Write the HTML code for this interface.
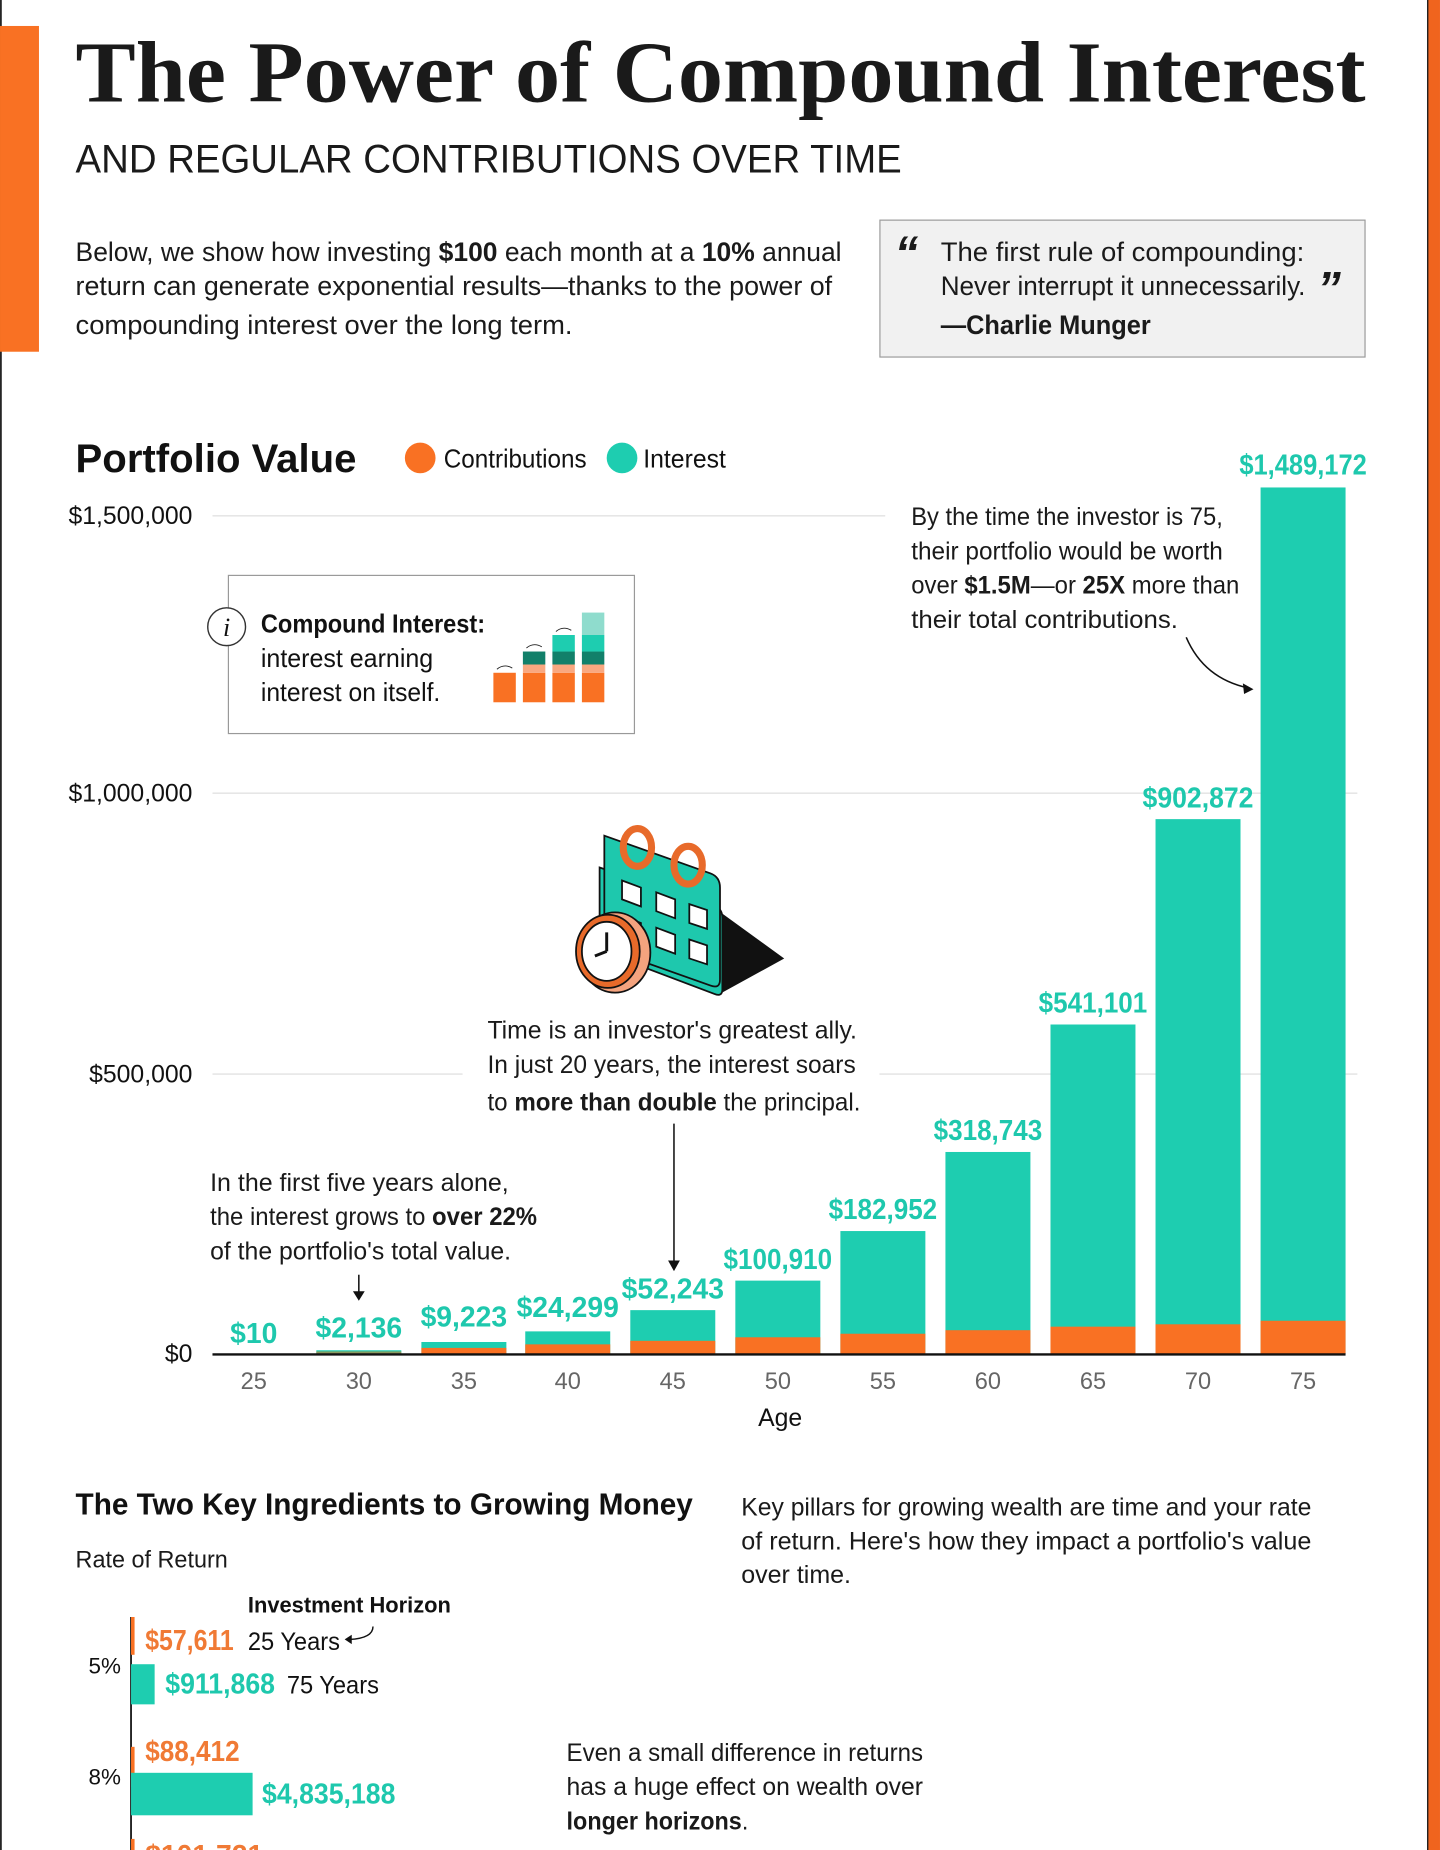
<!DOCTYPE html>
<html><head><meta charset="utf-8"><style>
html,body{margin:0;padding:0;background:#fff;width:1440px;height:1850px;overflow:hidden}
svg{display:block}
text{font-family:"Liberation Sans Narrow","Liberation Sans",sans-serif}
.s{font-family:"Liberation Serif",serif}
</style></head><body>
<svg width="1440" height="1850" viewBox="0 0 1220 1567.4" xmlns="http://www.w3.org/2000/svg">
<rect width="1220" height="1568" fill="#fff"/>
<rect x="0" y="0" width="1.5" height="1568" fill="#222"/>
<rect x="0" y="22" width="33" height="276" fill="#f97123"/>
<rect x="1209" y="0" width="11" height="1568" fill="#f0641e"/>
<rect x="1209" y="0" width="1.2" height="1568" fill="#222"/>

<text class="s" x="64" y="86" font-size="74" font-weight="bold" fill="#1a1a1a" textLength="1093" lengthAdjust="spacingAndGlyphs">The Power of Compound Interest</text>
<text x="64" y="146" font-size="34" fill="#1a1a1a" textLength="700" lengthAdjust="spacingAndGlyphs">AND REGULAR CONTRIBUTIONS OVER TIME</text>

<g font-size="23" fill="#1a1a1a">
<text x="64" y="221" textLength="649" lengthAdjust="spacingAndGlyphs">Below, we show how investing <tspan font-weight="bold">$100</tspan> each month at a <tspan font-weight="bold">10%</tspan> annual</text>
<text x="64" y="250" textLength="641" lengthAdjust="spacingAndGlyphs">return can generate exponential results—thanks to the power of</text>
<text x="64" y="283" textLength="421" lengthAdjust="spacingAndGlyphs">compounding interest over the long term.</text>
</g>
<rect x="745.5" y="186.5" width="411" height="116" fill="#f1f1f1" stroke="#9a9a9a"/>
<text x="758" y="228" font-size="40" font-weight="bold" font-style="italic" fill="#1a1a1a">“</text>
<text x="1116" y="258" font-size="40" font-weight="bold" font-style="italic" fill="#1a1a1a">”</text>
<g font-size="23" fill="#1a1a1a">
<text x="797" y="221" textLength="308" lengthAdjust="spacingAndGlyphs">The first rule of compounding:</text>
<text x="797" y="250" textLength="309" lengthAdjust="spacingAndGlyphs">Never interrupt it unnecessarily.</text>
<text x="797" y="283" font-weight="bold" textLength="178" lengthAdjust="spacingAndGlyphs">—Charlie Munger</text>
</g>

<text x="64" y="400" font-size="34" font-weight="bold" fill="#111" textLength="238" lengthAdjust="spacingAndGlyphs">Portfolio Value</text>
<circle cx="356" cy="388" r="13" fill="#f97123"/>
<text x="376" y="396" font-size="22" fill="#111" textLength="121" lengthAdjust="spacingAndGlyphs">Contributions</text>
<circle cx="527" cy="388" r="13" fill="#1ecdb0"/>
<text x="545" y="396" font-size="22" fill="#111" textLength="70" lengthAdjust="spacingAndGlyphs">Interest</text>

<g stroke="#e2e2e2" stroke-width="1.2">
<line x1="180" y1="437" x2="750" y2="437"/>
<line x1="180" y1="672" x2="1150" y2="672"/>
<line x1="180" y1="910" x2="392" y2="910"/>
<line x1="745" y1="910" x2="1150" y2="910"/>
</g>
<g font-size="21" fill="#111" text-anchor="end">
<text x="163" y="444">$1,500,000</text>
<text x="163" y="679">$1,000,000</text>
<text x="163" y="917">$500,000</text>
<text x="163" y="1154">$0</text>
</g>

<g fill="#1ecdb0">
<rect x="268" y="1144" width="72" height="3"/>
<rect x="357" y="1137" width="72" height="10"/>
<rect x="445" y="1128" width="72" height="19"/>
<rect x="534" y="1110" width="72" height="37"/>
<rect x="623" y="1085" width="72" height="62"/>
<rect x="712" y="1043" width="72" height="104"/>
<rect x="801" y="976" width="72" height="171"/>
<rect x="890" y="868" width="72" height="279"/>
<rect x="979" y="694" width="72" height="453"/>
<rect x="1068" y="413" width="72" height="734"/>
</g>
<g fill="#f97123">
<rect x="268" y="1145" width="72" height="2" fill="#8a9a60"/>
<rect x="357" y="1142" width="72" height="5"/>
<rect x="445" y="1139" width="72" height="8"/>
<rect x="534" y="1136" width="72" height="11"/>
<rect x="623" y="1133" width="72" height="14"/>
<rect x="712" y="1130" width="72" height="17"/>
<rect x="801" y="1127" width="72" height="20"/>
<rect x="890" y="1124" width="72" height="23"/>
<rect x="979" y="1122" width="72" height="25"/>
<rect x="1068" y="1119" width="72" height="28"/>
</g>
<line x1="180" y1="1147.5" x2="1140" y2="1147.5" stroke="#111" stroke-width="2"/>

<g font-size="24" font-weight="bold" fill="#1ec8ad" text-anchor="middle">
<text x="215" y="1138">$10</text>
<text x="304" y="1133">$2,136</text>
<text x="393" y="1124">$9,223</text>
<text x="481" y="1116">$24,299</text>
<text x="570" y="1100">$52,243</text>
<text x="659" y="1075" textLength="92" lengthAdjust="spacingAndGlyphs">$100,910</text>
<text x="748" y="1033" textLength="92" lengthAdjust="spacingAndGlyphs">$182,952</text>
<text x="837" y="966" textLength="92" lengthAdjust="spacingAndGlyphs">$318,743</text>
<text x="926" y="858" textLength="92" lengthAdjust="spacingAndGlyphs">$541,101</text>
<text x="1015" y="684" textLength="94" lengthAdjust="spacingAndGlyphs">$902,872</text>
<text x="1104" y="402" textLength="108" lengthAdjust="spacingAndGlyphs">$1,489,172</text>
</g>
<g font-size="20" fill="#666" text-anchor="middle">
<text x="215" y="1177">25</text><text x="304" y="1177">30</text><text x="393" y="1177">35</text>
<text x="481" y="1177">40</text><text x="570" y="1177">45</text><text x="659" y="1177">50</text>
<text x="748" y="1177">55</text><text x="837" y="1177">60</text><text x="926" y="1177">65</text>
<text x="1015" y="1177">70</text><text x="1104" y="1177">75</text>
</g>
<text x="661" y="1208" font-size="21" fill="#111" text-anchor="middle">Age</text>

<g font-size="21" fill="#1a1a1a">
<text x="772" y="445" textLength="264" lengthAdjust="spacingAndGlyphs">By the time the investor is 75,</text>
<text x="772" y="474" textLength="264" lengthAdjust="spacingAndGlyphs">their portfolio would be worth</text>
<text x="772" y="503" textLength="278" lengthAdjust="spacingAndGlyphs">over <tspan font-weight="bold">$1.5M</tspan>—or <tspan font-weight="bold">25X</tspan> more than</text>
<text x="772" y="532" textLength="226" lengthAdjust="spacingAndGlyphs">their total contributions.</text>
</g>
<path d="M1005 540 Q1020 575 1058 583" fill="none" stroke="#111" stroke-width="1.3"/>
<path d="M1062 584 l-9 -5 l1 9 z" fill="#111"/>

<rect x="193.5" y="487.5" width="344" height="134" fill="#fff" stroke="#999"/>
<circle cx="192" cy="531" r="16" fill="#fff" stroke="#333" stroke-width="1.2"/>
<text x="192" y="539" class="s" font-size="22" font-style="italic" fill="#111" text-anchor="middle">i</text>
<text x="221" y="536" font-size="22" font-weight="bold" fill="#111" textLength="190" lengthAdjust="spacingAndGlyphs">Compound Interest:</text>
<text x="221" y="565" font-size="22" fill="#111" textLength="146" lengthAdjust="spacingAndGlyphs">interest earning</text>
<text x="221" y="594" font-size="22" fill="#111" textLength="152" lengthAdjust="spacingAndGlyphs">interest on itself.</text>
<g>
<rect x="418" y="570" width="19" height="25" fill="#f97123"/>
<rect x="443" y="570" width="19" height="25" fill="#f97123"/><rect x="443" y="563" width="19" height="7" fill="#f9a880"/><rect x="443" y="552" width="19" height="11" fill="#12806a"/>
<rect x="468" y="570" width="19" height="25" fill="#f97123"/><rect x="468" y="563" width="19" height="7" fill="#f9a880"/><rect x="468" y="552" width="19" height="11" fill="#12806a"/><rect x="468" y="538" width="19" height="14" fill="#1ecdb0"/>
<rect x="493" y="570" width="19" height="25" fill="#f97123"/><rect x="493" y="563" width="19" height="7" fill="#f9a880"/><rect x="493" y="552" width="19" height="11" fill="#12806a"/><rect x="493" y="538" width="19" height="14" fill="#1ecdb0"/><rect x="493" y="519" width="19" height="19" fill="#8fdccd"/>
<g fill="none" stroke="#222" stroke-width="0.8">
<path d="M421 567 q6 -5 13 -1"/><path d="M446 549 q6 -5 13 -1"/><path d="M471 535 q6 -5 13 -1"/>
</g>
</g>

<g stroke="#111" stroke-width="1.5">
<path d="M612 775 L663 812 L612 840 L580 820 Z" fill="#111"/>
<path d="M508 735 L606 768 Q612 770 612 778 L612 838 Q612 845 605 842 L515 808 Q508 806 508 798 Z" fill="#1ec8ad"/>
<path d="M512 708 L602 740 Q610 743 610 752 L610 830 Q610 838 602 835 L520 806 Q512 803 512 795 Z" fill="#1ec8ad"/>
<g fill="#fff">
<path d="M527 746 l16 6 v16 l-16 -6z"/><path d="M556 756 l16 6 v16 l-16 -6z"/><path d="M584 766 l15 5 v16 l-15 -5z"/>
<path d="M527 776 l16 6 v16 l-16 -6z"/><path d="M556 786 l16 6 v16 l-16 -6z"/><path d="M584 796 l15 5 v16 l-15 -5z"/>
</g>
<ellipse cx="540" cy="718" rx="12" ry="16" fill="none" stroke="#e86a2a" stroke-width="6"/>
<ellipse cx="583" cy="733" rx="12" ry="16" fill="none" stroke="#e86a2a" stroke-width="6"/>
<ellipse cx="521" cy="807" rx="30" ry="34" fill="#f4a37e"/>
<ellipse cx="515" cy="806" rx="27" ry="31" fill="#e86a2a"/>
<ellipse cx="514" cy="806" rx="21" ry="25" fill="#fff"/>
<path d="M514 806 V790 M514 806 L504 810" stroke-width="2.5"/>
</g>

<rect x="392" y="858" width="353" height="92" fill="#fff"/>
<g font-size="21" fill="#1a1a1a">
<text x="413" y="880" textLength="313" lengthAdjust="spacingAndGlyphs">Time is an investor's greatest ally.</text>
<text x="413" y="909" textLength="312" lengthAdjust="spacingAndGlyphs">In just 20 years, the interest soars</text>
<text x="413" y="941" textLength="316" lengthAdjust="spacingAndGlyphs">to <tspan font-weight="bold">more than double</tspan> the principal.</text>
</g>
<line x1="571" y1="952" x2="571" y2="1070" stroke="#111" stroke-width="1.3"/>
<path d="M566 1068 h10 l-5 9z" fill="#111"/>

<g font-size="21" fill="#1a1a1a">
<text x="178" y="1009" textLength="253" lengthAdjust="spacingAndGlyphs">In the first five years alone,</text>
<text x="178" y="1038" textLength="277" lengthAdjust="spacingAndGlyphs">the interest grows to <tspan font-weight="bold">over 22%</tspan></text>
<text x="178" y="1067" textLength="255" lengthAdjust="spacingAndGlyphs">of the portfolio's total value.</text>
</g>
<line x1="304" y1="1080" x2="304" y2="1095" stroke="#111" stroke-width="1.3"/>
<path d="M299 1094 h10 l-5 8z" fill="#111"/>

<text x="64" y="1283" font-size="26" font-weight="bold" fill="#111" textLength="523" lengthAdjust="spacingAndGlyphs">The Two Key Ingredients to Growing Money</text>
<g font-size="21" fill="#1a1a1a">
<text x="628" y="1284" textLength="483" lengthAdjust="spacingAndGlyphs">Key pillars for growing wealth are time and your rate</text>
<text x="628" y="1313" textLength="483" lengthAdjust="spacingAndGlyphs">of return. Here's how they impact a portfolio's value</text>
<text x="628" y="1341" textLength="93" lengthAdjust="spacingAndGlyphs">over time.</text>
</g>
<text x="64" y="1328" font-size="20" fill="#1a1a1a" textLength="129" lengthAdjust="spacingAndGlyphs">Rate of Return</text>
<text x="210" y="1366" font-size="19" font-weight="bold" fill="#111" textLength="172" lengthAdjust="spacingAndGlyphs">Investment Horizon</text>
<line x1="111" y1="1370" x2="111" y2="1568" stroke="#111" stroke-width="1.5"/>
<text x="75" y="1418" font-size="19" fill="#111">5%</text>
<text x="75" y="1512" font-size="19" fill="#111">8%</text>
<rect x="111" y="1370" width="3" height="32" fill="#f97123"/>
<rect x="111" y="1410" width="20" height="34" fill="#1ecdb0"/>
<rect x="111" y="1480" width="3" height="34" fill="#f97123"/>
<rect x="111" y="1502" width="103" height="36" fill="#1ecdb0"/>
<rect x="111" y="1558" width="3" height="10" fill="#f97123"/>
<g font-size="24" font-weight="bold">
<text x="123" y="1398" fill="#f07a35" textLength="75" lengthAdjust="spacingAndGlyphs">$57,611</text>
<text x="140" y="1435" fill="#1ec8ad" textLength="93" lengthAdjust="spacingAndGlyphs">$911,868</text>
<text x="123" y="1492" fill="#f07a35" textLength="80" lengthAdjust="spacingAndGlyphs">$88,412</text>
<text x="222" y="1528" fill="#1ec8ad" textLength="113" lengthAdjust="spacingAndGlyphs">$4,835,188</text>
</g>
<text x="210" y="1398" font-size="21" fill="#111" textLength="78" lengthAdjust="spacingAndGlyphs">25 Years</text>
<path d="M316 1378 q0 10 -20 11" fill="none" stroke="#111" stroke-width="1.2"/>
<path d="M292 1389 l6 -4 v8z" fill="#111"/>
<text x="243" y="1435" font-size="21" fill="#111" textLength="78" lengthAdjust="spacingAndGlyphs">75 Years</text>
<g font-size="21" fill="#1a1a1a">
<text x="480" y="1492" textLength="302" lengthAdjust="spacingAndGlyphs">Even a small difference in returns</text>
<text x="480" y="1521" textLength="302" lengthAdjust="spacingAndGlyphs">has a huge effect on wealth over</text>
<text x="480" y="1550" textLength="154" lengthAdjust="spacingAndGlyphs"><tspan font-weight="bold">longer horizons</tspan>.</text>
</g>
<text x="123" y="1580" font-size="24" font-weight="bold" fill="#f07a35">$101,721</text>
</svg>
</body></html>
